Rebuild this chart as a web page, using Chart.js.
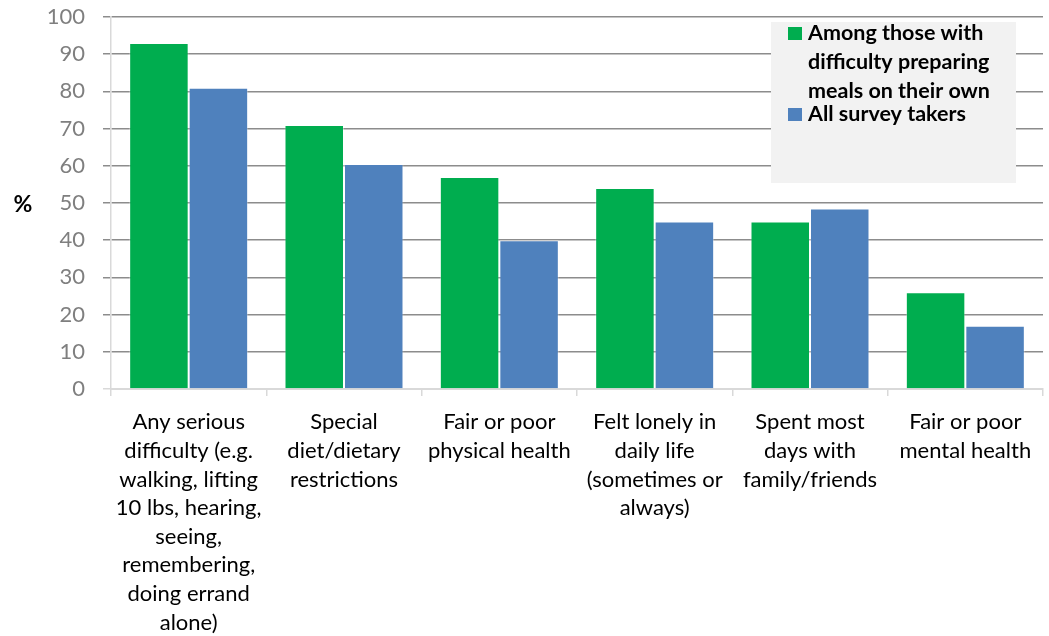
<!DOCTYPE html>
<html>
<head>
<meta charset="utf-8">
<script src="https://cdn.jsdelivr.net/npm/chart.js@4/dist/chart.umd.min.js"></script>
<style>
  body { margin: 0; background: #fff; }
  canvas { display: block; }
</style>
</head>
<body>
<canvas id="myChart" width="1049" height="636"></canvas>
<script>
// categories, one array of lines per x label
var categories = [
  ["Any serious", "difficulty (e.g.", "walking, lifting", "10 lbs, hearing,", "seeing,", "remembering,", "doing errand", "alone)"],
  ["Special", "diet/dietary", "restrictions"],
  ["Fair or poor", "physical health"],
  ["Felt lonely in", "daily life", "(sometimes or", "always)"],
  ["Spent most", "days with", "family/friends"],
  ["Fair or poor", "mental health"]
]
var seriesNames = [
  ["Among those with", "difficulty preparing", "meals on their own"],
  ["All survey takers"]
]
var mealDifficulty = [93, 71, 57, 54, 45, 26]
var allTakers = [81, 60.5, 40, 45, 48.5, 17]
var yTicks = [0, 10, 20, 30, 40, 50, 60, 70, 80, 90, 100]

var GREEN = "#00ad4f"
var BLUE = "#4f81bd"

// boxed legend on the top right plus the horizontal "%" axis title
var extras = {
  id: "extras",
  afterDraw: function(chart){
    var c = chart.ctx
    c.save()
    c.fillStyle = "#f2f2f2"
    c.fillRect(771, 22, 245, 161)

    c.font = "bold 21.5px Lato"
    c.textBaseline = "middle"
    c.textAlign = "left"
    var rows = [[33, 62, 91], [114]]
    chart.data.datasets.forEach(function(ds, i){
      c.fillStyle = ds.backgroundColor
      c.fillRect(788, rows[i][0] - 6, 14, 13)
      c.fillStyle = "#000"
      ds.legendLines.forEach(function(line, j){
        c.fillText(line, 808, rows[i][j])
      })
    })

    c.font = "bold 23px Lato"
    c.textAlign = "center"
    c.fillText("%", 23, 205)
    c.restore()
  }
}

var ctx = document.getElementById("myChart").getContext("2d")
var chart = new Chart(ctx, {
  type: "bar",
  data: {
    labels: categories,
    datasets: [
      {
        label: seriesNames[0].join(" "),
        legendLines: seriesNames[0],
        data: mealDifficulty,
        backgroundColor: GREEN,
        borderColor: "rgba(255,255,255,0.35)",
        borderWidth: 1
      },
      {
        label: seriesNames[1].join(" "),
        legendLines: seriesNames[1],
        data: allTakers,
        backgroundColor: BLUE,
        borderColor: "rgba(255,255,255,0.35)",
        borderWidth: 1
      }
    ]
  },
  options: {
    responsive: false,
    animation: false,
    layout: { padding: { top: 17, right: 6, left: 0, bottom: 0 } },
    datasets: { bar: { barPercentage: 1, categoryPercentage: 0.766 } },
    plugins: {
      legend: { display: false },
      tooltip: { enabled: false }
    },
    scales: {
      x: {
        grid: {
          offset: true,
          drawOnChartArea: false,
          drawTicks: true,
          tickLength: 7,
          color: "#d9d9d9",
          lineWidth: 1.5
        },
        border: { color: "#d9d9d9", width: 2 },
        ticks: {
          color: "#000",
          font: { family: "Lato", size: 22, lineHeight: 1.3 },
          padding: 12,
          maxRotation: 0,
          autoSkip: false
        },
        afterFit: function(scale){
          scale.height = 247
          scale.paddingTop = 0
          scale.paddingBottom = 0
        }
      },
      y: {
        min: 0,
        max: 100,
        afterBuildTicks: function(scale){
          scale.ticks = yTicks.map(function(v){ return { value: v } })
        },
        grid: {
          color: function(c){ return c.tick && c.tick.value === 0 ? "#d9d9d9" : "#8c8c8c" },
          lineWidth: 1.5,
          tickLength: 8
        },
        border: { color: "#d9d9d9", width: 1.5 },
        ticks: {
          color: "#7f7f7f",
          font: { family: "Lato", size: 22 },
          padding: 18
        },
        afterFit: function(scale){
          scale.width = 111
          scale.paddingTop = 0
          scale.paddingBottom = 0
        }
      }
    }
  },
  plugins: [extras]
})
</script>
</body>
</html>
